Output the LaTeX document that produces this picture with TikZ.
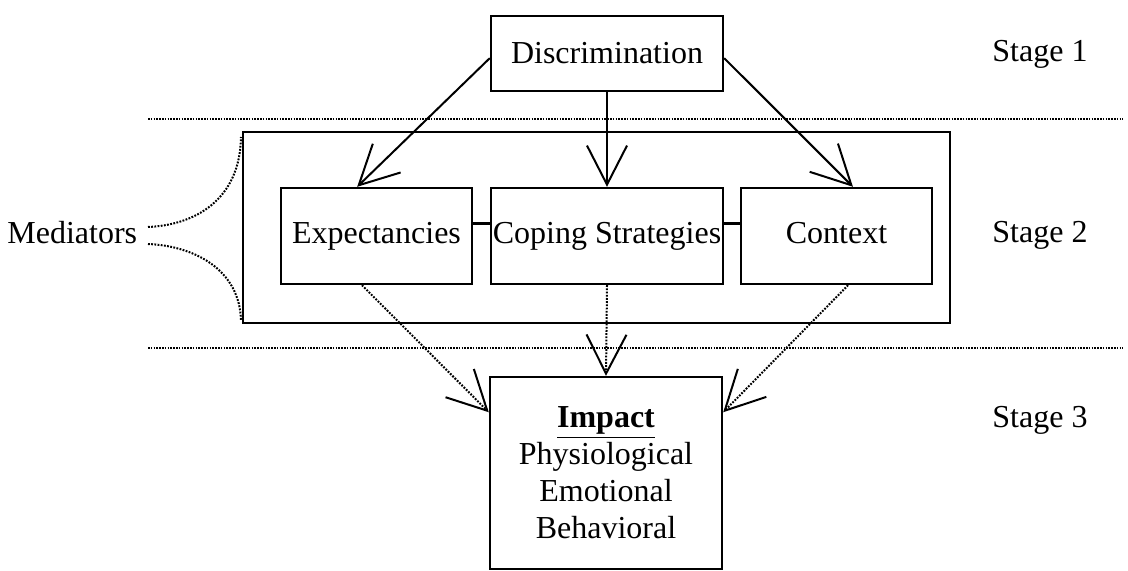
\documentclass[tikz,border=0pt]{standalone}
\usepackage{fontspec}
\setmainfont{Liberation Serif}
\usetikzlibrary{arrows.meta,calc}
\begin{document}
\begin{tikzpicture}[x=0.5pt,y=-0.5pt,
  every node/.style={font=\fontsize{16}{18.5}\selectfont},
  box/.style={draw,line width=1.2pt,inner sep=0pt},
  textbox/.style={box,minimum height=48pt,text height=11pt,text depth=3.5pt},
  smallbox/.style={textbox,minimum width=95.5pt},
  label/.style={anchor=base west,inner sep=0pt},
  barb/.style={-{Straight Barb[length=19.5pt,width=20pt]}},
  solidarrow/.style={barb,line width=1pt},
  dotarrow/.style={barb,line width=1pt,dash pattern=on 0.9pt off 0.7pt},
  divider/.style={line width=0.75pt,dash pattern=on 0.8pt off 0.6pt},
  bracket/.style={line width=1pt,dash pattern=on 0.9pt off 0.7pt}]
\useasboundingbox (0,0) rectangle (1128,571);

% stage 1
\node[box,minimum width=116pt,minimum height=37.5pt] (disc) at (607,53.5) {Discrimination};

% stage dividers
\coordinate (d1a) at (148,119);
\coordinate (d1b) at (1123,119);
\coordinate (d2a) at (148,348);
\coordinate (d2b) at (1123,348);
\draw[divider] (d1a) -- (d1b);
\draw[divider] (d2a) -- (d2b);

% stage 2: mediators
\node[box,minimum width=353.5pt,minimum height=95.5pt] (med) at (596.5,227.5) {};
\node[smallbox] (exp) at (376.5,236) {Expectancies};
\node[textbox,minimum width=116pt] (cope) at (607,236) {Coping Strategies};
\node[smallbox] (ctx) at (836.5,236) {Context};

\draw[line width=1.2pt] ($(exp.north east)!0.375!(exp.south east)$) -- ($(cope.north west)!0.375!(cope.south west)$);
\draw[line width=1.2pt] ($(cope.north east)!0.375!(cope.south east)$) -- ($(ctx.north west)!0.375!(ctx.south west)$);

% stage 3
\node[box,minimum width=116pt,minimum height=96pt,align=center] (imp) at (606,473)
  {\underline{\textbf{Impact}}\\Physiological\\Emotional\\Behavioral};

% arrows from discrimination
\draw[solidarrow] ($(disc.north west)!0.56!(disc.south west)$) -- ($(exp.north west)!0.4!(exp.north east)$);
\draw[solidarrow] (disc.south) -- (cope.north);
\draw[solidarrow] ($(disc.north east)!0.56!(disc.south east)$) -- ($(ctx.north west)!0.585!(ctx.north east)$);

% dotted arrows to impact
\draw[dotarrow] ($(exp.south west)!0.425!(exp.south east)$) -- ($(imp.north west)!0.1875!(imp.south west)$);
\draw[dotarrow] (cope.south) -- (imp.north);
\draw[dotarrow] ($(ctx.south west)!0.56!(ctx.south east)$) -- ($(imp.north east)!0.1875!(imp.south east)$);

% mediators label and bracket
\node[label] (medtext) at (7,244) {Mediators};
\coordinate (bu0) at (148,227);
\coordinate (bu1) at (241,137);
\coordinate (bl0) at (148,244);
\coordinate (bl1) at (241,321);
\draw[bracket] (bu0) .. controls (195,225) and (240,200) .. (bu1);
\draw[bracket] (bl0) .. controls (195,246) and (240,270) .. (bl1);

% stage labels
\node[label] (s1) at (992,62) {Stage 1};
\node[label] (s2) at (992,243) {Stage 2};
\node[label] (s3) at (992,427) {Stage 3};
\end{tikzpicture}
\end{document}
